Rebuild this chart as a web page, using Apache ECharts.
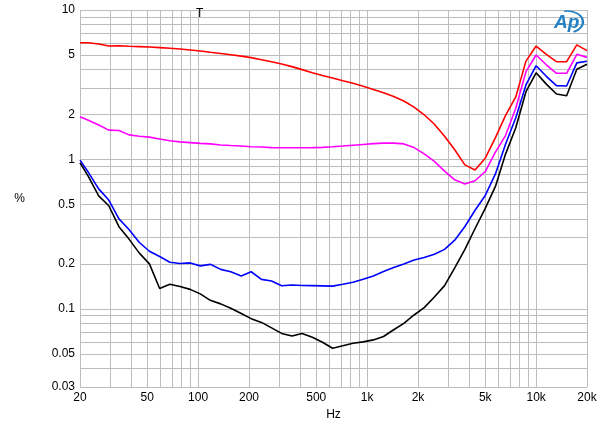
<!DOCTYPE html>
<html>
<head>
<meta charset="utf-8">
<script src="https://cdn.jsdelivr.net/npm/echarts@6/dist/echarts.min.js"></script>
<style>
  html, body { margin: 0; padding: 0; background: #fff; }
  #chart { width: 600px; height: 435px; }
</style>
</head>
<body>
<div id="chart"></div>
<script>
// sweep frequencies (Hz), 1/5 octave steps down from 20k
const freqs = [20, 22.4, 25.8, 29.6, 34, 39, 44.9, 51.5, 59.2, 68, 78.1, 89.7, 103, 118, 136, 156, 180, 206, 237, 272,
  312, 359, 412, 474, 544, 625, 718, 825, 947, 1088, 1250, 1436, 1649, 1895, 2176, 2500, 2872, 3299, 3789, 4353,
  5000, 5743, 6598, 7579, 8706, 10000, 11487, 13195, 15157, 17411, 20000];

// THD+N in %
const redVals = [6.04, 6.04, 5.92, 5.74, 5.77, 5.72, 5.69, 5.65, 5.6, 5.55, 5.48, 5.4, 5.32, 5.22, 5.12, 5.02, 4.91, 4.8, 4.65, 4.5,
  4.35, 4.18, 3.99, 3.8, 3.65, 3.51, 3.36, 3.23, 3.09, 2.94, 2.79, 2.64, 2.46, 2.24, 1.99, 1.72, 1.43, 1.16, 0.92, 0.85,
  1.02, 1.4, 1.97, 2.62, 4.55, 5.74, 5.05, 4.51, 4.51, 5.84, 5.35];
const magentaVals = [1.93, 1.83, 1.7, 1.57, 1.56, 1.46, 1.43, 1.41, 1.37, 1.335, 1.31, 1.295, 1.28, 1.27, 1.25, 1.24, 1.23, 1.215, 1.21, 1.2,
  1.198, 1.197, 1.198, 1.2, 1.205, 1.216, 1.23, 1.245, 1.26, 1.275, 1.285, 1.285, 1.27, 1.2, 1.09, 0.97, 0.835, 0.73, 0.685, 0.72,
  0.83, 1.12, 1.45, 2.2, 3.87, 5.0, 4.3, 3.77, 3.77, 5.05, 4.82];
const blueVals = [0.99, 0.82, 0.635, 0.535, 0.4, 0.34, 0.278, 0.243, 0.224, 0.205, 0.201, 0.203, 0.194, 0.1986, 0.1838, 0.1772, 0.1658, 0.1772, 0.1576, 0.1535,
  0.1428, 0.1443, 0.1435, 0.143, 0.1425, 0.142, 0.146, 0.1505, 0.158, 0.166, 0.178, 0.189, 0.2, 0.212, 0.221, 0.232, 0.25, 0.288, 0.356, 0.457,
  0.574, 0.8, 1.27, 1.9, 3.15, 4.24, 3.6, 3.12, 3.1, 4.43, 4.54];
const blackVals = [0.95, 0.77, 0.57, 0.49, 0.355, 0.293, 0.236, 0.2, 0.137, 0.146, 0.141, 0.135, 0.126, 0.114, 0.108, 0.101, 0.093, 0.086, 0.0812, 0.0746,
  0.0685, 0.0658, 0.0685, 0.0646, 0.0598, 0.0545, 0.0566, 0.0588, 0.0601, 0.062, 0.0653, 0.0725, 0.08, 0.091, 0.102, 0.12, 0.143, 0.188, 0.25, 0.345,
  0.47, 0.66, 1.09, 1.63, 2.84, 3.8, 3.19, 2.74, 2.67, 4.01, 4.33];

// grid lines and labels
const xGrid = [20, 30, 40, 50, 60, 70, 80, 90, 100, 200, 300, 400, 500, 600, 700, 800, 900,
  1000, 2000, 3000, 4000, 5000, 6000, 7000, 8000, 9000, 10000, 20000];
const xLabels = [20, 50, 100, 200, 500, 1000, 2000, 5000, 10000, 20000];
const yGrid = [0.03, 0.04, 0.05, 0.06, 0.07, 0.08, 0.09, 0.1, 0.2, 0.3, 0.4, 0.5, 0.6, 0.7, 0.8, 0.9,
  1, 2, 3, 4, 5, 6, 7, 8, 9, 10];
const yLabels = [0.03, 0.05, 0.1, 0.2, 0.5, 1, 2, 5, 10];

const font = 'Liberation Sans, Arial, sans-serif';
const gridColor = '#bdbdbd';
const apBlue = '#2480c2';

function makeSeries(name, vals, color) {
  return {
    name: name,
    type: 'line',
    data: freqs.map((f, i) => [f, vals[i]]),
    symbol: 'none',
    lineStyle: { color: color, width: 1.6 },
    itemStyle: { color: color },
    animation: false
  };
}

const chart = echarts.init(document.getElementById('chart'));
chart.setOption({
  animation: false,
  backgroundColor: '#fff',
  grid: { left: 80, right: 13, top: 10, bottom: 48 },
  xAxis: {
    type: 'log',
    logBase: 10,
    min: 20,
    max: 20000,
    name: 'Hz',
    nameLocation: 'middle',
    nameGap: 22,
    nameTextStyle: { color: '#000', fontSize: 12, fontFamily: font },
    axisLine: { show: false },
    axisTick: { show: false, customValues: xGrid },
    axisLabel: {
      customValues: xLabels,
      color: '#000',
      fontSize: 12,
      fontFamily: font,
      margin: 5,
      formatter: v => v >= 1000 ? (v / 1000) + 'k' : String(v)
    },
    splitLine: { show: true, lineStyle: { color: gridColor, width: 1 } }
  },
  yAxis: {
    type: 'log',
    logBase: 10,
    min: 0.03,
    max: 10,
    name: '%',
    nameLocation: 'middle',
    nameGap: 55,
    nameRotate: 0,
    nameTextStyle: { color: '#000', fontSize: 12, fontFamily: font },
    axisLine: { show: false },
    axisTick: { show: false, customValues: yGrid },
    axisLabel: {
      customValues: yLabels,
      color: '#000',
      fontSize: 12,
      fontFamily: font,
      margin: 5,
      formatter: v => String(+(+v).toPrecision(3))
    },
    splitLine: { show: true, lineStyle: { color: gridColor, width: 1 } }
  },
  graphic: [
    { type: 'text', x: 196, y: 8, z: 100, style: { text: 'T', fill: '#000', font: '12px ' + font } },
    { type: 'text', x: 554, y: 13, z: 100, style: { text: 'Ap', fill: apBlue, font: 'italic bold 19px ' + font } },
    { type: 'arc', x: 567, y: 22, scaleX: 1.45, z: 100,
      shape: { cx: 0, cy: 0, r: 11, startAngle: -1.75, endAngle: 1.15 },
      style: { stroke: apBlue, lineWidth: 1.6, fill: null } }
  ],
  series: [
    makeSeries('red', redVals, '#ff0000'),
    makeSeries('magenta', magentaVals, '#ff00ff'),
    makeSeries('blue', blueVals, '#0000ff'),
    makeSeries('black', blackVals, '#000000')
  ]
});
</script>
</body>
</html>
